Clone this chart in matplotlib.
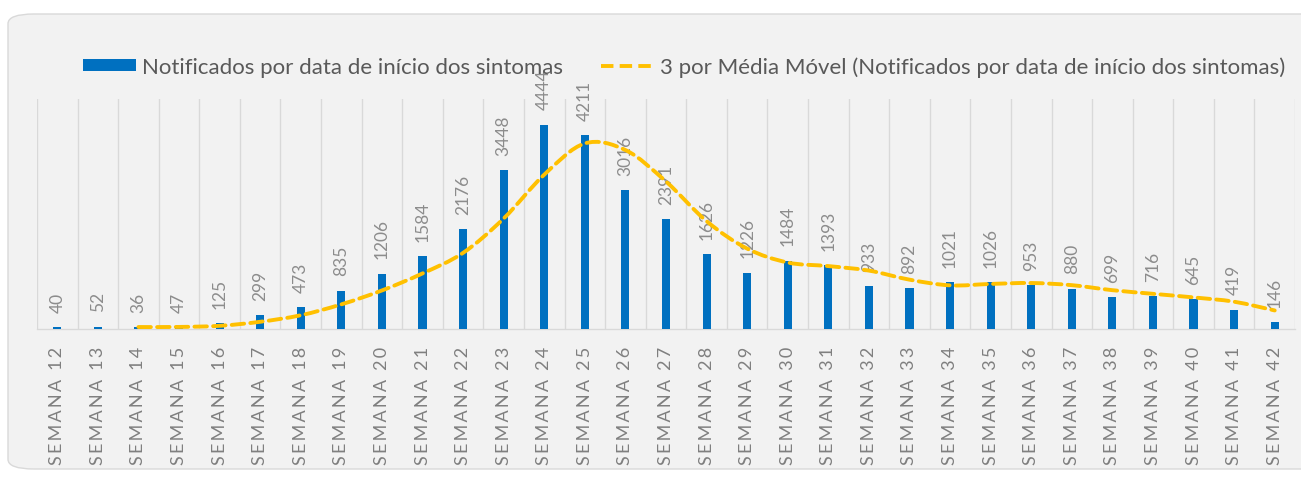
import numpy as np
import matplotlib
matplotlib.use('Agg')
import matplotlib.pyplot as plt
from matplotlib.patches import FancyBboxPatch, Patch
from matplotlib.lines import Line2D
from matplotlib.path import Path
from matplotlib.patches import PathPatch

plt.rcParams['font.family'] = ['Lato', 'DejaVu Sans']

# data
weeks = list(range(12, 43))
notificados = [40, 52, 36, 47, 125, 299, 473, 835, 1206, 1584, 2176, 3448, 4444, 4211,
               3016, 2391, 1626, 1226, 1484, 1393, 933, 892, 1021, 1026, 953, 880, 699,
               716, 645, 419, 146]
# 3-period moving average as drawn (starts at week 14)
mm_weeks = list(range(14, 43))
media_movel = [42.7, 45.0, 69.3, 157.0, 299.0, 535.7, 838.0, 1208.3, 1655.3, 2402.7, 3356.0,
               4034.3, 3890.3, 3206.0, 2344.3, 1747.7, 1445.3, 1367.7, 1270.0, 1072.7, 948.7,
               979.7, 1000.0, 953.0, 844.0, 765.0, 686.7, 593.3, 403.3]
cat_prefix = 'SEMANA'
# letter-spaced category labels, as in the original
tick_labels = ['\u2009'.join(cat_prefix) + '\u2005 ' + '\u2009'.join(str(w)) for w in weeks]

bar_color = '#0070C0'
line_color = '#FFC000'
text_gray = '#595959'
label_gray = '#8c8c8c'

fig = plt.figure(figsize=(13.01, 4.85), dpi=100)
fig.patch.set_facecolor('white')

# rounded chart area background
bg = FancyBboxPatch((8 / 1301, 15 / 485), 1.05, 455 / 485,
                    boxstyle='round,pad=0,rounding_size=0.02',
                    transform=fig.transFigure, facecolor='#f2f2f2',
                    edgecolor='#d9d9d9', linewidth=1.0, zorder=-5)
fig.patches.append(bg)

ax = fig.add_axes([37 / 1301, 1 - 330 / 485, (1295 - 37) / 1301, 230 / 485])
ax.set_facecolor('none')
ax.set_zorder(2)

x = np.arange(len(weeks))
ax.bar(x, notificados, width=0.2, color=bar_color, zorder=3)

for xi, v in zip(x, notificados):
    ax.annotate(str(v), (xi, v), xytext=(0, 11), textcoords='offset points',
                rotation=90, ha='center', va='bottom', fontsize=12.5,
                color=label_gray, zorder=4)

# smoothed moving-average line (Catmull-Rom to Bezier, like the spreadsheet)
mx = np.array([weeks.index(w) for w in mm_weeks], dtype=float)
my = np.array(media_movel)
verts = [(mx[0], my[0])]
codes = [Path.MOVETO]
n = len(mx)
for i in range(n - 1):
    p0 = np.array([mx[max(i - 1, 0)], my[max(i - 1, 0)]])
    p1 = np.array([mx[i], my[i]])
    p2 = np.array([mx[i + 1], my[i + 1]])
    p3 = np.array([mx[min(i + 2, n - 1)], my[min(i + 2, n - 1)]])
    c1 = p1 + (p2 - p0) / 6.0
    c2 = p2 - (p3 - p1) / 6.0
    verts += [tuple(c1), tuple(c2), tuple(p2)]
    codes += [Path.CURVE4] * 3
ax.add_patch(PathPatch(Path(verts, codes), fill=False, edgecolor=line_color,
                       linewidth=2.8, linestyle=(0, (3.2, 1.6)), zorder=5,
                       capstyle='round'))

ax.set_xlim(-0.5, len(weeks) - 0.5)
ax.set_ylim(0, 5000)
ax.set_yticks([])
ax.set_xticks(x)
ax.set_xticklabels(tick_labels, rotation=90, fontsize=13, color='#7f7f7f')
ax.tick_params(axis='x', length=0, pad=12)
ax.set_xticks(np.arange(-0.5, len(weeks)), minor=True)
ax.tick_params(axis='x', which='minor', length=0)
ax.grid(axis='x', which='minor', color='#d9d9d9', linewidth=1.0, zorder=0)
ax.grid(axis='x', which='major', visible=False)
for s in ['top', 'left', 'right']:
    ax.spines[s].set_visible(False)
ax.spines['bottom'].set_color('#d9d9d9')
ax.spines['bottom'].set_linewidth(1.0)

handles = [Patch(facecolor=bar_color, edgecolor='none'),
           Line2D([0], [0], color=line_color, linewidth=2.8, linestyle=(0, (3.2, 1.6)))]
names = ['Notificados por data de início dos sintomas',
         '3 por Média Móvel (Notificados por data de início dos sintomas)']
leg = fig.legend(handles, names, loc='center', bbox_to_anchor=(684 / 1301, 1 - 68 / 485),
                 ncol=2, frameon=False, fontsize=16, labelcolor=text_gray,
                 handlelength=2.4, handleheight=0.45, handletextpad=0.25, columnspacing=1.7)

fig.savefig('out.png', dpi=100, facecolor='white')
